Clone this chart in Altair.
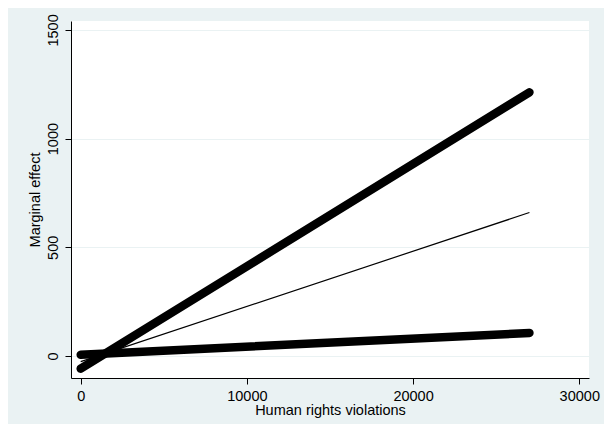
import altair as alt
import pandas as pd

# Data
x_ends = [0, 27000]
upper_bound = [-58, 1213]
marginal = [-26, 660]
lower_bound = [6, 106]

x_ticks = [0, 10000, 20000, 30000]
y_ticks = [0, 500, 1000, 1500]

thick = pd.DataFrame({
    "x": x_ends + x_ends,
    "y": upper_bound + lower_bound,
    "series": ["upper", "upper", "lower", "lower"],
})
thin = pd.DataFrame({"x": x_ends, "y": marginal, "series": ["me", "me"]})

BG = "#EAF2F3"
FONT = "Liberation Sans"

xscale = alt.Scale(domain=[-584, 30585], nice=False, zero=False)
yscale = alt.Scale(domain=[-101, 1541], nice=False, zero=False)

xaxis = alt.Axis(
    title="Human rights violations",
    values=x_ticks,
    grid=False,
    format="d",
    labelFlush=False,
    tickSize=6,
    labelPadding=5,
    titlePadding=1,
)
yaxis = alt.Axis(
    title="Marginal effect",
    values=y_ticks,
    grid=True,
    gridColor=BG,
    gridWidth=1.2,
    format="d",
    labelAngle=270,
    labelAlign="center",
    labelBaseline="bottom",
    labelFlush=False,
    tickSize=6,
    labelPadding=5,
    titlePadding=3,
)

thick_layer = alt.Chart(thick).mark_line(
    color="black", strokeWidth=8.5, strokeCap="round"
).encode(
    x=alt.X("x:Q", scale=xscale, axis=xaxis),
    y=alt.Y("y:Q", scale=yscale, axis=yaxis),
    detail="series:N",
)

thin_layer = alt.Chart(thin).mark_line(color="black", strokeWidth=1.2).encode(
    x=alt.X("x:Q", scale=xscale),
    y=alt.Y("y:Q", scale=yscale),
)

chart = (
    alt.layer(thick_layer, thin_layer)
    .properties(
        width=518,
        height=357,
        background=BG,
        padding={"left": 63, "top": 13, "right": 15, "bottom": 46},
        autosize=alt.AutoSizeParams(type="none"),
    )
    .configure_view(fill="white", stroke=None)
    .configure_axis(
        domainColor="black",
        domainWidth=1,
        tickColor="black",
        tickWidth=1,
        labelColor="black",
        titleColor="black",
        labelFont=FONT,
        titleFont=FONT,
        labelFontSize=14.5,
        titleFontSize=14.5,
        titleFontWeight="normal",
    )
)

chart.save("out.html", embed_options={"renderer": "svg", "actions": False})
